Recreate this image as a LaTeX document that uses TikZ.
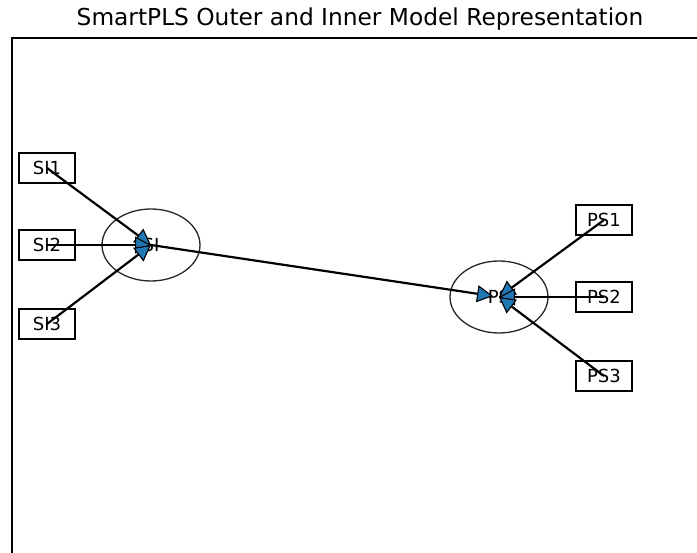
\documentclass[tikz,border=0pt]{standalone}
\usepackage{fontspec}
\setmainfont{DejaVu Sans}
\usepackage{xcolor}
\usetikzlibrary{arrows.meta,shapes.geometric}
\definecolor{mplblue}{HTML}{1F77B4}

\begin{document}
\begin{tikzpicture}[x=1pt,y=-1pt,
  indicator/.style={draw,line width=1.4pt,minimum width=56pt,minimum height=30pt,inner sep=0pt,font=\fontsize{18}{21}\selectfont},
  construct/.style={ellipse,draw=black!85,line width=1.3pt,minimum width=98pt,minimum height=72pt,inner sep=0pt,font=\fontsize{18}{21}\selectfont},
  link/.style={draw,line width=2.2pt,-{Triangle[width=17pt,length=16pt,fill=mplblue,line width=1.1pt]}}
]
\useasboundingbox (0,0) rectangle (697,553);

\node[font=\fontsize{23.3}{28}\selectfont] (title) at (360,19) {SmartPLS Outer and Inner Model Representation};
\draw[line width=1.3pt] (12,553) -- (12,38) -- (697,38);

\node[construct] (si) at (151,245) {SI};
\node[construct] (ps) at (499,297) {PS};

\node[indicator] (si1) at (47,168) {SI1};
\node[indicator] (si2) at (47,245) {SI2};
\node[indicator] (si3) at (47,324) {SI3};
\node[indicator] (ps1) at (604,220) {PS1};
\node[indicator] (ps2) at (604,297) {PS2};
\node[indicator] (ps3) at (604,376) {PS3};

\draw[link] (si1.center) -- (si.center);
\draw[link] (si2.center) -- (si.center);
\draw[link] (si3.center) -- (si.center);
\draw[link,shorten >=6pt] (si.center) -- (ps.center);
\draw[link] (ps1.center) -- (ps.center);
\draw[link] (ps2.center) -- (ps.center);
\draw[link] (ps3.center) -- (ps.center);
\end{tikzpicture}
\end{document}
